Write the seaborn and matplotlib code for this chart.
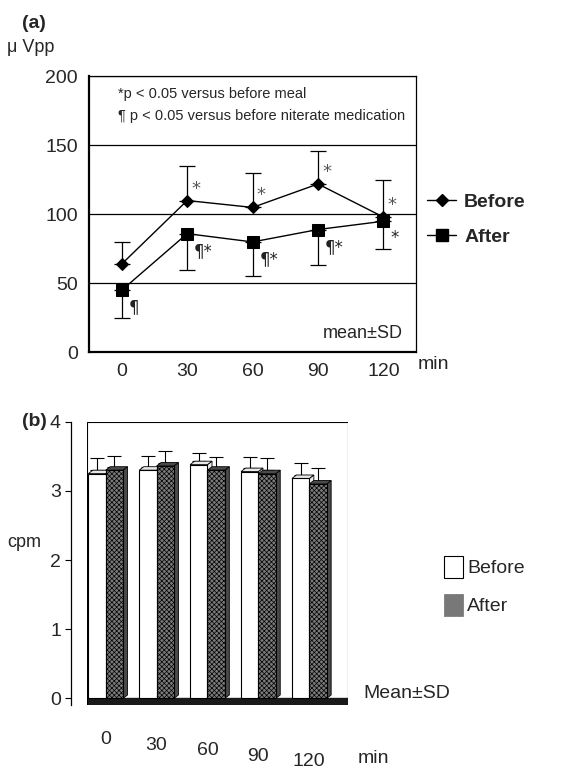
import numpy as np
import pandas as pd
import matplotlib
matplotlib.use("Agg")
import matplotlib.pyplot as plt
import matplotlib.transforms as mtransforms
from matplotlib.lines import Line2D
from matplotlib.patches import Patch, Polygon, Rectangle
import seaborn as sns

# ---- data ----------------------------------------------------------------
times = ["0", "30", "60", "90", "120"]

# (a) amplitude, micro Vpp
amp_before = [64, 110, 105, 122, 98]
amp_before_sd = [16, 25, 25, 24, 27]
amp_after = [45, 86, 80, 89, 95]
amp_after_sd = [20, 26, 25, 26, 20]
before_marks = ["", "*", "*", "*", "*"]
after_marks = ["¶", "¶*", "¶*", "¶*", "*"]

# (b) frequency, cpm
cpm_before = [3.25, 3.30, 3.38, 3.28, 3.18]
cpm_before_sd = [0.17, 0.15, 0.12, 0.16, 0.18]
cpm_after = [3.30, 3.36, 3.30, 3.25, 3.10]
cpm_after_sd = [0.15, 0.16, 0.14, 0.18, 0.18]

sns.set_style("white")
plt.rcParams["font.family"] = ["Liberation Sans", "DejaVu Sans"]
plt.rcParams["hatch.color"] = "#2a2a2a"
plt.rcParams["hatch.linewidth"] = 0.5

fig = plt.figure(figsize=(5.78, 7.71), dpi=100)

# ---- panel (a) -----------------------------------------------------------
ax = fig.add_axes([0.154, 0.543, 0.566, 0.358])

df_a = pd.DataFrame({
    "time": times * 2,
    "value": amp_before + amp_after,
    "group": ["Before"] * 5 + ["After"] * 5,
})

ax.errorbar(range(5), amp_before, yerr=[np.zeros(5), amp_before_sd],
            fmt="none", ecolor="black", elinewidth=0.9, capsize=6, capthick=0.9, zorder=2)
ax.errorbar(range(5), amp_after, yerr=[amp_after_sd, np.zeros(5)],
            fmt="none", ecolor="black", elinewidth=0.9, capsize=6, capthick=0.9, zorder=2)

sns.pointplot(data=df_a[df_a.group == "Before"], x="time", y="value", order=times,
              color="black", marker="D", markersize=6, linewidth=1.0,
              errorbar=None, ax=ax, zorder=4)
sns.pointplot(data=df_a[df_a.group == "After"], x="time", y="value", order=times,
              color="black", marker="s", markersize=8, linewidth=1.0,
              errorbar=None, ax=ax, zorder=4)

for i, (v, s) in enumerate(zip(amp_before, before_marks)):
    if s:
        ax.annotate(s, (i, v), xytext=(3, 5), textcoords="offset points",
                    fontsize=13, color="#555555", family="DejaVu Sans")
for i, (v, s) in enumerate(zip(amp_after, after_marks)):
    ax.annotate(s, (i, v), xytext=(5, -16), textcoords="offset points",
                fontsize=12, color="#222222", family="DejaVu Sans")

ax.set_ylim(0, 200)
ax.set_xlim(-0.5, 4.5)
ax.set_yticks([0, 50, 100, 150, 200])
ax.grid(axis="y", color="black", linewidth=0.9)
ax.grid(axis="x", visible=False)
ax.set_xlabel("")
ax.set_ylabel("")
ax.set_xticks([0.5, 1.5, 2.5, 3.5], minor=True)
ax.tick_params(axis="x", which="minor", direction="in", length=6, width=0.9, color="black")
ax.tick_params(axis="both", which="major", length=0, labelsize=14, pad=8)
for side in ["left", "bottom"]:
    ax.spines[side].set_linewidth(1.6)
for side in ["top", "right"]:
    ax.spines[side].set_linewidth(0.9)
for sp in ax.spines.values():
    sp.set_color("black")

ax.text(0.09, 0.935, "*p < 0.05 versus before meal", transform=ax.transAxes,
        fontsize=10.5, va="center")
ax.text(0.09, 0.855, "¶ p < 0.05 versus before niterate medication", transform=ax.transAxes,
        fontsize=10.5, va="center")
ax.text(0.96, 0.07, "mean±SD", transform=ax.transAxes, fontsize=13, ha="right", va="center")

handles_a = [
    Line2D([], [], color="black", marker="D", markersize=6, linewidth=1.0),
    Line2D([], [], color="black", marker="s", markersize=8, linewidth=1.0),
]
ax.legend(handles_a, ["Before", "After"], loc="center left", bbox_to_anchor=(0.98, 0.48),
          frameon=False, prop={"weight": "bold", "size": 14}, handlelength=1.5,
          handletextpad=0.4, labelspacing=0.9)

fig.text(0.038, 0.970, "(a)", fontsize=14, weight="bold", va="center")
fig.text(0.012, 0.938, "μ Vpp", fontsize=13, va="center")
fig.text(0.722, 0.527, "min", fontsize=14, va="center")

# ---- panel (b) -----------------------------------------------------------
bx = fig.add_axes([0.151, 0.086, 0.451, 0.367])

df_b = pd.DataFrame({
    "time": times * 2,
    "cpm": cpm_before + cpm_after,
    "group": ["Before"] * 5 + ["After"] * 5,
})
after_gray = "#7a7a7a"
sns.barplot(data=df_b, x="time", y="cpm", hue="group", order=times,
            hue_order=["Before", "After"], palette=["white", after_gray],
            edgecolor="black", linewidth=0.8, errorbar=None, width=0.68,
            legend=False, ax=bx, zorder=3)

for p in bx.containers[1]:
    p.set_hatch("xxxxxxx")

# fake depth on each bar (side + top faces)
dx, dy = 0.09, 0.05
for cont, face in zip(bx.containers, ["#e8e8e8", "#4a4a4a"]):
    for p in cont:
        x0, w, h = p.get_x(), p.get_width(), p.get_height()
        side = Polygon([(x0 + w, 0), (x0 + w, h), (x0 + w + dx, h + dy), (x0 + w + dx, dy)],
                       closed=True, facecolor=face, edgecolor="black", linewidth=0.6, zorder=2)
        top = Polygon([(x0, h), (x0 + w, h), (x0 + w + dx, h + dy), (x0 + dx, h + dy)],
                      closed=True, facecolor=face, edgecolor="black", linewidth=0.6, zorder=2)
        bx.add_patch(side)
        bx.add_patch(top)

for cont, sd in zip(bx.containers, [cpm_before_sd, cpm_after_sd]):
    xs = [p.get_x() + p.get_width() / 2 for p in cont]
    hs = [p.get_height() + dy for p in cont]
    bx.errorbar(xs, hs, yerr=[np.zeros(5), sd], fmt="none", ecolor="black",
                elinewidth=0.8, capsize=5, capthick=0.8, zorder=1)

# floor strip
bx.axhspan(-0.09, 0.0, color="#1a1a1a", zorder=1)
bx.add_patch(Rectangle((0, 0), 1, 1, transform=bx.transAxes, fill=False,
                       edgecolor="black", linewidth=0.8, zorder=5))

bx.set_ylim(-0.09, 4)
bx.set_xlim(-0.36, 4.76)
bx.set_yticks([0, 1, 2, 3, 4])
bx.set_xlabel("")
bx.set_ylabel("")
for side in ["top", "right", "bottom"]:
    bx.spines[side].set_visible(False)
bx.spines["left"].set_position(("outward", 12))
bx.spines["left"].set_linewidth(0.9)
bx.spines["left"].set_color("black")
bx.tick_params(axis="y", which="major", direction="out", length=4, width=0.8,
               color="black", labelsize=14, pad=3, left=True)
bx.tick_params(axis="x", which="major", length=0, labelsize=14, pad=19)
# labels step down, following the tilted floor
for k, lab in enumerate(bx.get_xticklabels()):
    lab.set_transform(lab.get_transform() +
                      mtransforms.ScaledTranslation(0, -k * 0.055, fig.dpi_scale_trans))

handles_b = [
    Patch(facecolor="white", edgecolor="black", linewidth=0.8),
    Patch(facecolor=after_gray, edgecolor="#777777", linewidth=0.5, hatch="xxxxxxx"),
]
bx.legend(handles_b, ["Before", "After"], loc="center left", bbox_to_anchor=(1.30, 0.42),
          frameon=False, prop={"size": 14}, handlelength=1.0, handleheight=1.4,
          handletextpad=0.2, labelspacing=0.8)

fig.text(0.038, 0.453, "(b)", fontsize=14, weight="bold", va="center")
fig.text(0.012, 0.296, "cpm", fontsize=13, va="center")
fig.text(0.628, 0.101, "Mean±SD", fontsize=14, va="center")
fig.text(0.618, 0.016, "min", fontsize=14, va="center")

fig.savefig("out.png", dpi=100)
